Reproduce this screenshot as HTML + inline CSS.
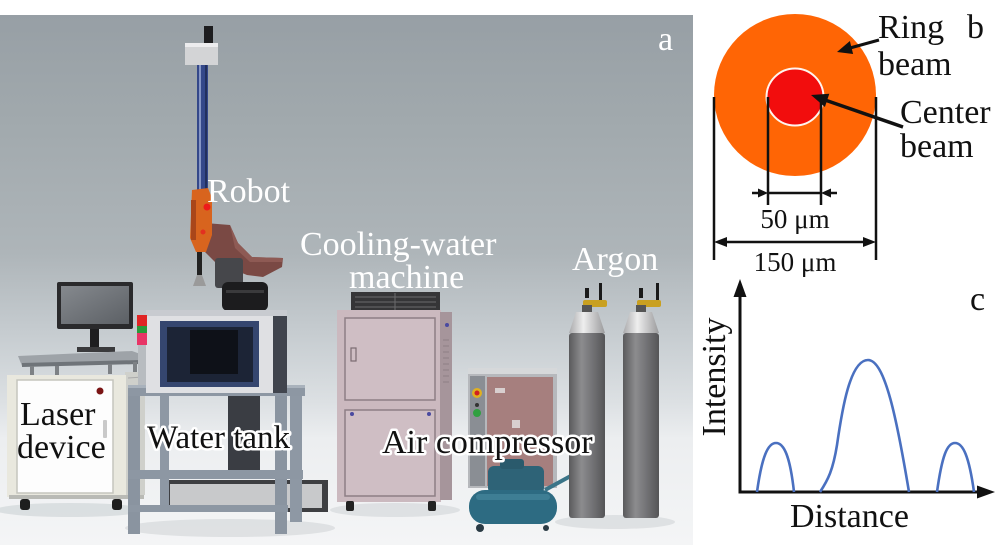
<!DOCTYPE html>
<html><head><meta charset="utf-8"><style>
html,body{margin:0;padding:0;background:#fff;}
svg{display:block;}
text{font-family:"Liberation Serif", serif;}
</style></head><body>
<svg width="1000" height="545" viewBox="0 0 1000 545" xmlns="http://www.w3.org/2000/svg">
<defs>
<linearGradient id="wall" gradientUnits="userSpaceOnUse" x1="0" y1="15" x2="0" y2="545">
 <stop offset="0" stop-color="#979fa5"/>
 <stop offset="0.2" stop-color="#a1a9ad"/>
 <stop offset="0.45" stop-color="#aeb5b9"/>
 <stop offset="0.6" stop-color="#c6ccd0"/>
 <stop offset="0.73" stop-color="#dce0e3"/>
 <stop offset="0.8" stop-color="#eceef0"/>
 <stop offset="1" stop-color="#f4f5f6"/>
</linearGradient>
<linearGradient id="cyl" x1="0" y1="0" x2="1" y2="0">
 <stop offset="0" stop-color="#5a5a5c"/>
 <stop offset="0.35" stop-color="#8c8c8e"/>
 <stop offset="0.6" stop-color="#77777a"/>
 <stop offset="1" stop-color="#555557"/>
</linearGradient>
<linearGradient id="sil" x1="0" y1="0" x2="1" y2="0">
 <stop offset="0" stop-color="#a9a9ab"/>
 <stop offset="0.4" stop-color="#eeeeee"/>
 <stop offset="1" stop-color="#9a9a9c"/>
</linearGradient>
<linearGradient id="scr" x1="0" y1="0" x2="1" y2="1">
 <stop offset="0" stop-color="#85898e"/>
 <stop offset="1" stop-color="#5c6065"/>
</linearGradient>
</defs>

<!-- ============ PANEL A (photo) ============ -->
<rect x="0" y="15" width="693" height="530" fill="url(#wall)"/>
<ellipse cx="70" cy="510" rx="75" ry="7" fill="#d5d9dc" opacity="0.8"/>
<ellipse cx="230" cy="528" rx="105" ry="9" fill="#d5d9dc" opacity="0.7"/>
<ellipse cx="395" cy="510" rx="65" ry="7" fill="#d5d9dc" opacity="0.7"/>
<ellipse cx="615" cy="522" rx="60" ry="7" fill="#d5d9dc" opacity="0.7"/>

<!-- Robot -->
<rect x="204" y="26" width="9" height="19" fill="#1d1d1f"/>
<rect x="185" y="43" width="33" height="22" fill="#d3d4d6"/>
<rect x="185" y="43" width="33" height="4" fill="#ececee"/>
<rect x="197" y="65" width="11" height="128" fill="#34488a"/>
<rect x="199" y="65" width="2" height="128" fill="#8595c4"/>
<rect x="205" y="65" width="2" height="128" fill="#22305e"/>
<polygon points="205,223 230,225 238,243 252,257 283,258 282,267 263,277 247,275 215,262 205,252" fill="#7a4944"/>
<polygon points="230,225 238,243 252,257 283,258 282,262 250,262 235,248" fill="#8e5a54"/>
<rect x="215" y="258" width="28" height="30" rx="3" fill="#46474b"/>
<rect x="222" y="282" width="46" height="29" rx="6" fill="#1c1c1e"/>
<rect x="226" y="290" width="38" height="3" fill="#3a3a3c"/>
<polygon points="192,190 208,188 212,198 212,235 206,252 196,252 190,238" fill="#d8641e"/>
<rect x="191" y="200" width="5" height="40" fill="#a9461a"/>
<circle cx="207" cy="207" r="3.5" fill="#ee1a1a"/>
<circle cx="203" cy="232" r="2.5" fill="#e23020"/>
<rect x="197" y="252" width="5" height="24" fill="#222"/>
<polygon points="193,286 206,286 202,275 197,275" fill="#9a9a9a"/>

<!-- Laser device -->
<rect x="57" y="282" width="76" height="47" rx="2" fill="#2a2a2c"/>
<rect x="61" y="286" width="68" height="38" fill="url(#scr)"/>
<rect x="90" y="329" width="9" height="19" fill="#1e1e20"/>
<rect x="77" y="347" width="38" height="5" fill="#3a3a3c"/>
<polygon points="18,356 132,351 146,356 140,363 22,366" fill="#9ea3a8"/>
<polygon points="22,363 140,360 140,364 22,367" fill="#6f7479"/>
<rect x="30" y="366" width="4" height="10" fill="#7d8185"/>
<rect x="55" y="366" width="4" height="10" fill="#7d8185"/>
<rect x="108" y="364" width="4" height="10" fill="#7d8185"/>
<rect x="133" y="362" width="4" height="10" fill="#7d8185"/>
<rect x="125" y="372" width="20" height="123" fill="#cfd0cb"/>
<line x1="128" y1="378" x2="143" y2="377" stroke="#aaa" stroke-width="1"/>
<rect x="7" y="375" width="119" height="122" fill="#e9e8de"/>
<rect x="17" y="380" width="96" height="113" fill="#fdfdfd" stroke="#c5c5bd" stroke-width="1.5"/>
<circle cx="100" cy="391" r="3.5" fill="#7a1414"/>
<rect x="103" y="420" width="4" height="18" rx="1" fill="#c9c9c9"/>
<rect x="9" y="495" width="135" height="4" fill="#b9bab5"/>
<rect x="20" y="499" width="10" height="11" rx="3" fill="#1e1e1e"/>
<rect x="112" y="499" width="10" height="11" rx="3" fill="#1e1e1e"/>

<!-- Water tank table -->
<rect x="165" y="480" width="163" height="32" fill="#3e3f42"/>
<rect x="170" y="484" width="152" height="24" fill="#c8c9cb"/>
<rect x="228" y="395" width="32" height="80" fill="#3a3d43"/>
<rect x="160" y="395" width="9" height="110" fill="#8e98a4"/>
<rect x="290" y="392" width="12" height="130" fill="#8e98a4"/>
<rect x="128" y="385" width="177" height="11" fill="#8d97a3"/>
<rect x="128" y="385" width="177" height="3" fill="#a9b2bc"/>
<rect x="128" y="396" width="12" height="138" fill="#8a94a0"/>
<rect x="275" y="396" width="12" height="138" fill="#8a94a0"/>
<rect x="128" y="470" width="175" height="9" fill="#8d97a3"/>
<rect x="128" y="505" width="160" height="7" fill="#8d97a3"/>
<rect x="146" y="310" width="141" height="83" fill="#dfe0e3"/>
<rect x="146" y="310" width="141" height="6" fill="#c8cbd0"/>
<rect x="273" y="316" width="14" height="77" fill="#40444d"/>
<rect x="160" y="321" width="99" height="66" fill="#35466f"/>
<rect x="167" y="327" width="86" height="55" fill="#1c2436"/>
<rect x="190" y="330" width="48" height="44" fill="#0e1118"/>
<rect x="137" y="315" width="10" height="11" fill="#e02424"/>
<rect x="137" y="326" width="10" height="7" fill="#2a9a3a"/>
<rect x="137" y="333" width="10" height="12" fill="#e83566"/>
<rect x="138" y="345" width="8" height="40" fill="#b8bcc0"/>

<!-- Cooling-water machine -->
<rect x="351" y="292" width="89" height="19" fill="#353537"/>
<g stroke="#6a6a6c" stroke-width="1">
<line x1="355" y1="297" x2="436" y2="297"/><line x1="355" y1="302" x2="436" y2="302"/><line x1="355" y1="307" x2="436" y2="307"/>
<line x1="395" y1="293" x2="395" y2="310"/>
</g>
<rect x="337" y="310" width="104" height="192" fill="#cbb9bf"/>
<rect x="440" y="312" width="12" height="188" fill="#a6959b"/>
<g stroke="#8f8086" stroke-width="1">
<line x1="443" y1="340" x2="449" y2="340"/><line x1="443" y1="346" x2="449" y2="346"/><line x1="443" y1="352" x2="449" y2="352"/><line x1="443" y1="358" x2="449" y2="358"/><line x1="443" y1="364" x2="449" y2="364"/><line x1="443" y1="370" x2="449" y2="370"/><line x1="443" y1="376" x2="449" y2="376"/><line x1="443" y1="382" x2="449" y2="382"/>
</g>
<rect x="345" y="318" width="90" height="82" fill="#cfbec4" stroke="#8e7f85" stroke-width="1.5"/>
<rect x="345" y="410" width="90" height="86" fill="#cfbec4" stroke="#8e7f85" stroke-width="1.5"/>
<rect x="351" y="348" width="5" height="13" fill="none" stroke="#7a6b71" stroke-width="1.2"/>
<circle cx="352" cy="414" r="2" fill="#4a4aa0"/>
<circle cx="429" cy="414" r="2" fill="#4a4aa0"/>
<circle cx="447" cy="325" r="2" fill="#4a4aa0"/>
<rect x="346" y="501" width="8" height="10" rx="2" fill="#222"/>
<rect x="428" y="501" width="8" height="10" rx="2" fill="#222"/>

<!-- Air compressor cabinet -->
<rect x="468" y="368" width="89" height="120" fill="#b6b8bc"/>
<rect x="468" y="368" width="89" height="6" fill="#d6d8da"/>
<rect x="470" y="376" width="15" height="110" fill="#8a8e94"/>
<rect x="487" y="377" width="66" height="109" fill="#a67f7e"/>
<circle cx="477" cy="393" r="5" fill="#e0b020"/>
<circle cx="477" cy="393" r="2.5" fill="#d02020"/>
<circle cx="477" cy="405" r="2" fill="#333"/>
<circle cx="477" cy="413" r="4" fill="#30a040"/>
<rect x="495" y="388" width="10" height="5" fill="#d8cfcf"/>
<rect x="512" y="420" width="8" height="8" fill="#d8cfcf"/>
<!-- compressor -->
<rect x="488" y="466" width="56" height="28" rx="6" fill="#2e6377"/>
<rect x="500" y="459" width="24" height="10" rx="3" fill="#2a5a6c"/>
<line x1="545" y1="490" x2="578" y2="472" stroke="#3a7488" stroke-width="4"/>
<rect x="469" y="490" width="88" height="34" rx="16" fill="#2d6b82"/>
<rect x="476" y="494" width="74" height="6" rx="3" fill="#4a8aa0" opacity="0.6"/>
<circle cx="480" cy="528" r="4" fill="#2a3a44"/>
<circle cx="546" cy="528" r="3" fill="#2a3a44"/>

<!-- Argon cylinders -->
<g>
<rect x="599" y="283" width="3" height="24" fill="#1a1a1a"/>
<rect x="585" y="288" width="4" height="10" fill="#1a1a1a"/>
<rect x="583" y="300" width="24" height="7" rx="2" fill="#c9a020"/>
<rect x="582" y="305" width="10" height="8" fill="#555"/>
<path d="M569,333 L576,312 L598,312 L605,333 Z" fill="url(#sil)"/>
<rect x="569" y="333" width="36" height="185" rx="3" fill="url(#cyl)"/>
</g>
<g>
<rect x="656" y="283" width="3" height="24" fill="#1a1a1a"/>
<rect x="639" y="288" width="4" height="10" fill="#1a1a1a"/>
<rect x="637" y="300" width="24" height="7" rx="2" fill="#c9a020"/>
<rect x="636" y="305" width="10" height="8" fill="#555"/>
<path d="M623,333 L630,312 L652,312 L659,333 Z" fill="url(#sil)"/>
<rect x="623" y="333" width="36" height="185" rx="3" fill="url(#cyl)"/>
</g>

<!-- Panel A labels -->
<text x="658" y="50" font-size="34" fill="#ffffff">a</text>
<text x="207" y="202" font-size="34" fill="#ffffff">Robot</text>
<text x="300" y="255" font-size="34" fill="#ffffff">Cooling-water</text>
<text x="349" y="288" font-size="34" fill="#ffffff">machine</text>
<text x="572" y="270" font-size="34" fill="#ffffff">Argon</text>
<text x="20" y="425" font-size="34" fill="#111">Laser</text>
<text x="17" y="458" font-size="34" fill="#111">device</text>
<text x="147" y="448" font-size="33" fill="#111" stroke="#ffffff" stroke-width="5" stroke-linejoin="round" paint-order="stroke">Water tank</text>
<text x="382" y="453" font-size="34" fill="#111" stroke="#ffffff" stroke-width="5" stroke-linejoin="round" paint-order="stroke">Air compressor</text>

<!-- ============ PANEL B ============ -->
<circle cx="795" cy="95" r="81" fill="#ff6505"/>
<circle cx="795" cy="97" r="28.5" fill="#f20d0d" stroke="#fff4ee" stroke-width="2"/>
<g stroke="#111" stroke-width="2.5" fill="none">
<line x1="714" y1="97" x2="714" y2="260"/>
<line x1="876" y1="97" x2="876" y2="260"/>
<line x1="768" y1="97" x2="768" y2="205"/>
<line x1="821" y1="97" x2="821" y2="205"/>
<line x1="768" y1="193" x2="821" y2="193"/>
<line x1="752" y1="193" x2="760" y2="193"/>
<line x1="829" y1="193" x2="837" y2="193"/>
<line x1="724" y1="242" x2="866" y2="242"/>
</g>
<g fill="#111">
<polygon points="768,193 758,188.5 758,197.5"/>
<polygon points="821,193 831,188.5 831,197.5"/>
<polygon points="714,242 727,237 727,247"/>
<polygon points="876,242 863,237 863,247"/>
</g>
<line x1="879" y1="40" x2="850" y2="48" stroke="#111" stroke-width="3"/>
<polygon points="837,52 853.1,54 849.9,41" fill="#111"/>
<line x1="903" y1="127" x2="825" y2="100" stroke="#111" stroke-width="3.5"/>
<polygon points="811,95 829.3,93.8 824.9,107" fill="#111"/>
<text x="878" y="38" font-size="34" fill="#111">Ring</text>
<text x="967" y="38" font-size="34" fill="#111">b</text>
<text x="878" y="75" font-size="34" fill="#111">beam</text>
<text x="900" y="123" font-size="34" fill="#111">Center</text>
<text x="900" y="157" font-size="34" fill="#111">beam</text>
<text x="795" y="228" font-size="27" fill="#111" text-anchor="middle">50 μm</text>
<text x="795" y="271" font-size="27" fill="#111" text-anchor="middle">150 μm</text>

<!-- ============ PANEL C ============ -->
<line x1="740" y1="292" x2="740" y2="493.5" stroke="#111" stroke-width="3"/>
<polygon points="740,279 733.5,297 746.5,297" fill="#111"/>
<line x1="738.5" y1="492" x2="980" y2="492" stroke="#111" stroke-width="3"/>
<polygon points="995,492 977,485.5 977,498.5" fill="#111"/>
<g stroke="#4a70c0" stroke-width="2.6" fill="none">
<path d="M757,492 C762,456 768,443 776,443 C784,443 790,456 794,492"/>
<path d="M820,492 C828,480 833,470 837,445 C842,410 850,360 868,360 C885,360 897,420 909,492"/>
<path d="M937,492 C942,456 947,443 955,443 C963,443 969,456 974,492"/>
</g>
<text x="970" y="310" font-size="34" fill="#111">c</text>
<text transform="translate(725,377) rotate(-90)" font-size="34" fill="#111" text-anchor="middle">Intensity</text>
<text x="790" y="527" font-size="34" fill="#111">Distance</text>
</svg>
</body></html>
